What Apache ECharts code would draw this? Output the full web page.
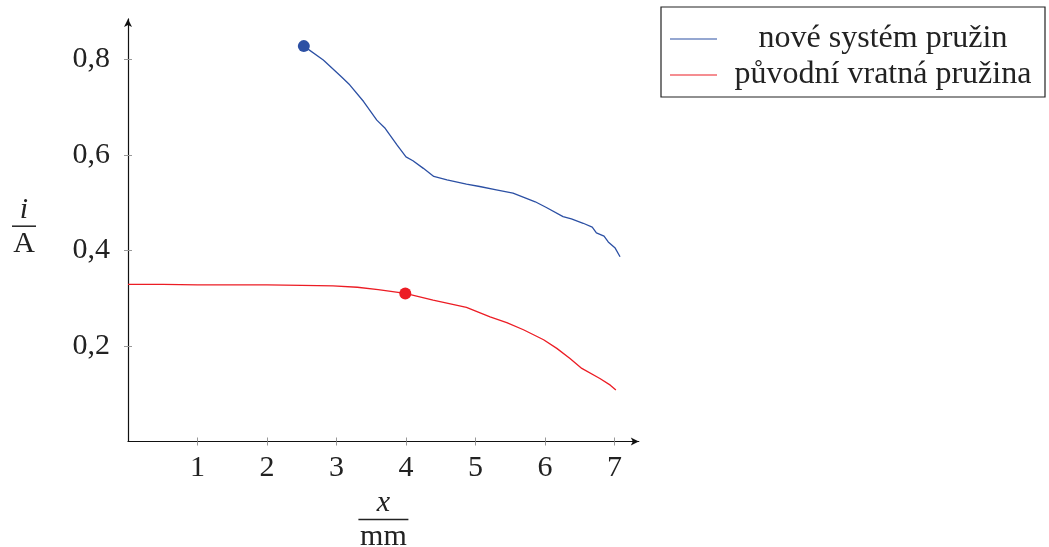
<!DOCTYPE html>
<html><head><meta charset="utf-8">
<script src="https://cdn.jsdelivr.net/npm/echarts@6/dist/echarts.min.js"></script>
<style>html,body{margin:0;padding:0;background:#fff}#c{width:1049px;height:547px}</style>
</head><body><div id="c"></div>
<script>
const seriesNames = ['nové systém pružin', 'původní vratná pružina'];
const blueX = [2.53, 2.81, 3.07, 3.19, 3.39, 3.58, 3.70, 3.87, 4.00, 4.10, 4.25, 4.40, 4.59, 4.87, 5.06, 5.30, 5.54, 5.86, 6.02, 6.26, 6.38, 6.55, 6.68, 6.74, 6.85, 6.91, 7.01, 7.08];
const blueY = [0.828, 0.799, 0.764, 0.747, 0.712, 0.673, 0.656, 0.621, 0.596, 0.588, 0.572, 0.555, 0.548, 0.539, 0.534, 0.527, 0.520, 0.502, 0.490, 0.471, 0.466, 0.457, 0.449, 0.437, 0.430, 0.418, 0.405, 0.387];
const redX = [0, 0.5, 1, 1.5, 2, 2.5, 2.95, 3.3, 3.6, 3.99, 4.39, 4.87, 5.21, 5.45, 5.69, 5.98, 6.17, 6.36, 6.53, 6.79, 6.94, 7.02];
const redY = [0.329, 0.329, 0.328, 0.328, 0.328, 0.327, 0.326, 0.323, 0.318, 0.310, 0.296, 0.281, 0.261, 0.249, 0.234, 0.213, 0.195, 0.174, 0.153, 0.132, 0.118, 0.108];
const blueMarker = [2.53, 0.828];
const redMarker = [3.99, 0.310];
const xTicks = [1, 2, 3, 4, 5, 6, 7];
const yTicks = [0.2, 0.4, 0.6, 0.8];

const FONT = 'Liberation Serif';
const BLUE = '#2c50a4';
const RED = '#ec1c24';
const zip = (xs, ys) => xs.map((x, i) => [x, ys[i]]);

const grid = {left: 128, right: 410.2, top: 18.9, bottom: 105.5, outerBoundsMode: 'none', containLabel: false};
const baseX = {type: 'value', min: 0, max: 7.35, position: 'bottom'};
const baseY = {type: 'value', min: 0, max: 0.885, position: 'left'};

const option = {
  animation: false,
  backgroundColor: '#fff',
  textStyle: {fontFamily: FONT},
  grid: grid,
  xAxis: [
    Object.assign({}, baseX, {
      splitLine: {show: false},
      axisLine: {lineStyle: {color: '#111', width: 1.2}, symbol: ['none', 'arrow'], symbolSize: [6, 8], symbolOffset: [0, 0]},
      axisTick: {show: true, length: 4, customValues: xTicks, lineStyle: {color: '#999'}},
      axisLabel: {customValues: xTicks, color: '#222', fontSize: 30, fontFamily: FONT, margin: 12},
      name: '{n|x}\n{l|}\n{d|mm}',
      nameLocation: 'middle',
      nameGap: 44,
      nameTextStyle: {
        rich: {
          n: {fontSize: 30, fontStyle: 'italic', fontFamily: FONT, color: '#222', align: 'center', lineHeight: 26},
          l: {width: 50, height: 1.5, backgroundColor: '#222', align: 'center', lineHeight: 6},
          d: {fontSize: 30, fontFamily: FONT, color: '#222', align: 'center', lineHeight: 30}
        }
      }
    }),
    Object.assign({}, baseX, {
      splitLine: {show: false},
      axisLine: {show: false},
      axisTick: {show: true, inside: true, length: 4, customValues: xTicks, lineStyle: {color: '#999'}},
      axisLabel: {show: false}
    })
  ],
  yAxis: [
    Object.assign({}, baseY, {
      splitLine: {show: false},
      axisLine: {lineStyle: {color: '#111', width: 1.2}, symbol: ['none', 'arrow'], symbolSize: [6, 8], symbolOffset: [0, 0]},
      axisTick: {show: true, length: 4, customValues: yTicks, lineStyle: {color: '#999'}},
      axisLabel: {customValues: yTicks, color: '#222', fontSize: 30, fontFamily: FONT, margin: 18,
        formatter: v => v.toFixed(1).replace('.', ',')},
      name: '{n|i}\n{l|}\n{d|A}',
      nameLocation: 'middle',
      nameRotate: 0,
      nameGap: 92,
      nameTextStyle: {
        padding: [0, 0, 4, 0],
        rich: {
          n: {fontSize: 30, fontStyle: 'italic', fontFamily: FONT, color: '#222', align: 'center', lineHeight: 26},
          l: {width: 24, height: 1.5, backgroundColor: '#222', align: 'center', lineHeight: 6},
          d: {fontSize: 30, fontFamily: FONT, color: '#222', align: 'center', lineHeight: 30}
        }
      }
    }),
    Object.assign({}, baseY, {
      splitLine: {show: false},
      axisLine: {show: false},
      axisTick: {show: true, inside: true, length: 4, customValues: yTicks, lineStyle: {color: '#999'}},
      axisLabel: {show: false}
    })
  ],
  legend: {
    orient: 'vertical',
    left: 661, top: 7,
    backgroundColor: '#fff',
    borderColor: '#222', borderWidth: 1.2, borderRadius: 0,
    padding: [16, 1, 6, 9],
    itemWidth: 47, itemHeight: 1.2, itemGap: 4, itemTextGap: 5,
    data: [{name: seriesNames[0], icon: 'rect'}, {name: seriesNames[1], icon: 'rect'}],
    formatter: n => '{t|' + n + '}',
    textStyle: {
      fontFamily: FONT, fontSize: 32, color: '#222',
      rich: {t: {width: 322, align: 'center', fontSize: 32, fontFamily: FONT, lineHeight: 34, color: '#222'}}
    }
  },
  series: [
    {name: seriesNames[0], type: 'line', xAxisIndex: 0, yAxisIndex: 0, data: zip(blueX, blueY),
      showSymbol: false, symbol: 'none', lineStyle: {color: BLUE, width: 1.3}, itemStyle: {color: BLUE}},
    {name: seriesNames[1], type: 'line', xAxisIndex: 0, yAxisIndex: 0, data: zip(redX, redY),
      showSymbol: false, symbol: 'none', lineStyle: {color: RED, width: 1.3}, itemStyle: {color: RED}},
    {name: 'm1', type: 'scatter', data: [blueMarker], symbolSize: 12, itemStyle: {color: BLUE, opacity: 1}, z: 5},
    {name: 'm2', type: 'scatter', data: [redMarker], symbolSize: 12, itemStyle: {color: RED, opacity: 1}, z: 5}
  ]
};
const chart = echarts.init(document.getElementById('c'), null, {renderer: 'canvas'});
chart.setOption(option);
</script>
</body></html>
